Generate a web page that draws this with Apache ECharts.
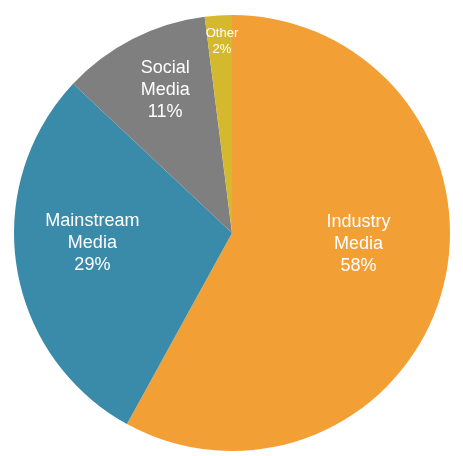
<!DOCTYPE html>
<html>
<head>
<meta charset="utf-8">
<script src="https://cdn.jsdelivr.net/npm/echarts@6/dist/echarts.min.js"></script>
<style>
html,body{margin:0;padding:0;background:#fff;}
#chart{width:463px;height:456px;}
</style>
</head>
<body>
<div id="chart"></div>
<script>
var categories = ['Industry\nMedia', 'Mainstream\nMedia', 'Social\nMedia', 'Other'];
var values = [58, 29, 11, 2];

var colors = ['#F29F35', '#3A8AA9', '#7F7F7F', '#D4B92F'];
var labelShift = [[18, -17], [-29, -7], [-16, -43], [-3, -80]];

var chart = echarts.init(document.getElementById('chart'));
var data = categories.map(function (c, i) {
  var item = { name: c, value: values[i], itemStyle: { color: colors[i] } };
  if (i === 3) {
    item.label = { fontSize: 13, lineHeight: 16 };
  }
  return item;
});

chart.setOption({
  animation: false,
  series: [{
    type: 'pie',
    center: [232, 233],
    radius: 218,
    startAngle: 90,
    clockwise: true,
    avoidLabelOverlap: false,
    itemStyle: { borderWidth: 0 },
    label: {
      show: true,
      position: 'inside',
      color: '#fff',
      fontFamily: 'Liberation Sans, Arial, sans-serif',
      fontSize: 18,
      lineHeight: 22,
      formatter: function (p) { return p.name + '\n' + p.value + '%'; }
    },
    labelLine: { show: false },
    emphasis: { disabled: true },
    labelLayout: function (p) {
      return { dx: labelShift[p.dataIndex][0], dy: labelShift[p.dataIndex][1] };
    },
    data: data
  }]
});
</script>
</body>
</html>
